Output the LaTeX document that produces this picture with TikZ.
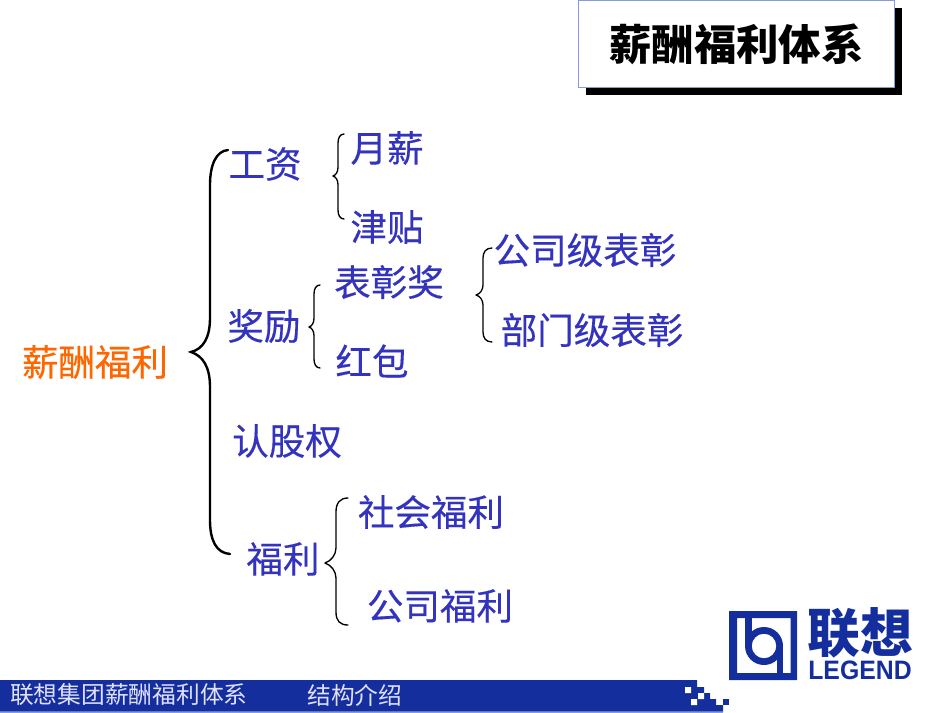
\documentclass[tikz,border=0pt]{standalone}
\usepackage{fontspec}
\setmainfont{Liberation Sans}
\newfontfamily\cjk{Noto Sans CJK SC}
\newfontfamily\cjkfat[FakeBold=0.35]{Noto Sans CJK SC}
\definecolor{txtblue}{RGB}{51,51,190}
\definecolor{barblue}{RGB}{20,46,158}
\definecolor{rim}{RGB}{130,155,225}
\definecolor{orangetxt}{RGB}{255,102,0}
\tikzset{
  item/.style={font=\cjkfat\fontsize{27.4}{28}\selectfont,text=txtblue,inner sep=0pt},
  brc/.style={draw=black,line width=1pt,line cap=round,line join=round},
  bigbrc/.style={draw=black,line width=1.8pt,line cap=round},
  foot/.style={font=\cjk\fontsize{17.8}{18}\selectfont,text=white!88!blue,inner sep=0pt,anchor=west}
}
\begin{document}
\begin{tikzpicture}[x=0.75pt,y=-0.75pt]
\useasboundingbox (0,0) rectangle (950,713);
% title
\fill[black] (586,8) rectangle (902,95);
\node[draw=rim,fill=white,line width=0.8pt,minimum width=237pt,minimum height=65pt,inner sep=0pt,anchor=north west,font=\cjk\bfseries\fontsize{31.8}{32}\selectfont] (title) at (578,0) {薪酬福利体系};
% items
\node[item,text=orangetxt] (root) at (95,362) {薪酬福利};
\node[item] (gz) at (265,164) {工资};
\node[item] (yx) at (387,148) {月薪};
\node[item] (jt) at (387,227) {津贴};
\node[item] (jl) at (264,326) {奖励};
\node[item] (bzj) at (389,282) {表彰奖};
\node[item] (hb) at (372,361) {红包};
\node[item] (gsj) at (585,250) {公司级表彰};
\node[item] (bmj) at (592,330) {部门级表彰};
\node[item] (rgq) at (287,441) {认股权};
\node[item] (fl) at (283,559) {福利};
\node[item] (shfl) at (431,512) {社会福利};
\node[item] (gsfl) at (440,606) {公司福利};
% braces
\draw[bigbrc] (228,150) .. controls (216,151) and (210,165) .. (210,185) -- (210,318) .. controls (210,338) and (203,349) .. (191,352) .. controls (203,356) and (210,367) .. (210,387) -- (210,520) .. controls (210,540) and (216,553) .. (230,554);
\draw[brc] (344,134) .. controls (340,134) and (338,138) .. (338,143) -- (338,167) .. controls (338,172) and (336,175) .. (333,176) .. controls (336,177) and (338,180) .. (338,185) -- (338,210) .. controls (338,215) and (340,219) .. (344,219);
\draw[brc] (320,285) .. controls (316,285) and (314,289) .. (314,294) -- (314,318) .. controls (314,323) and (312,326) .. (309,327) .. controls (312,328) and (314,331) .. (314,336) -- (314,359) .. controls (314,364) and (316,368) .. (320,368);
\draw[brc] (492,248) .. controls (486,248) and (483,252) .. (483,258) -- (483,285) .. controls (483,290) and (480,294) .. (476,295) .. controls (480,296) and (483,300) .. (483,305) -- (483,332) .. controls (483,338) and (486,342) .. (492,342);
\draw[brc] (348,498) .. controls (340,498) and (336,503) .. (336,512) -- (336,548) .. controls (336,555) and (331,561) .. (325,563) .. controls (331,565) and (336,571) .. (336,578) -- (336,612) .. controls (336,621) and (340,625) .. (348,625);
% footer bar
\fill[barblue] (0,680) -- (697,680) -- (697,687) -- (704,687) -- (704,693) -- (710,693) -- (710,699) -- (716,699) -- (716,705) -- (723,705) -- (723,711.7) -- (0,711.7) -- cycle;
\fill[white] (685,687) rectangle (691,693) (698,693) rectangle (704,699) (691,699) rectangle (697,705);
\fill[barblue] (723,699) rectangle (729,705);
\fill[rim] (0,711.7) rectangle (723,713);
\node[foot] (f1) at (10,695) {联想集团薪酬福利体系};
\node[foot] (f2) at (307,695) {结构介绍};
% logo
\fill[barblue,even odd rule] (729,611) rectangle (797,680) (737,618) rectangle (790.5,673);
\fill[barblue] (745,618) rectangle (752,646);
\fill[barblue,even odd rule] (764,646) circle[radius=19] (764,646) circle[radius=12.3];
\fill[barblue] (776.5,646) rectangle (783,673);
\node[font=\cjk\bfseries\fontsize{39.5}{40}\selectfont,text=barblue,inner sep=0pt] (lx) at (860,633) {联想};
\node[font=\bfseries\fontsize{20}{20}\selectfont,text=barblue,inner sep=0pt,xscale=0.93] (lg) at (860,670) {LEGEND};
\end{tikzpicture}
\end{document}
